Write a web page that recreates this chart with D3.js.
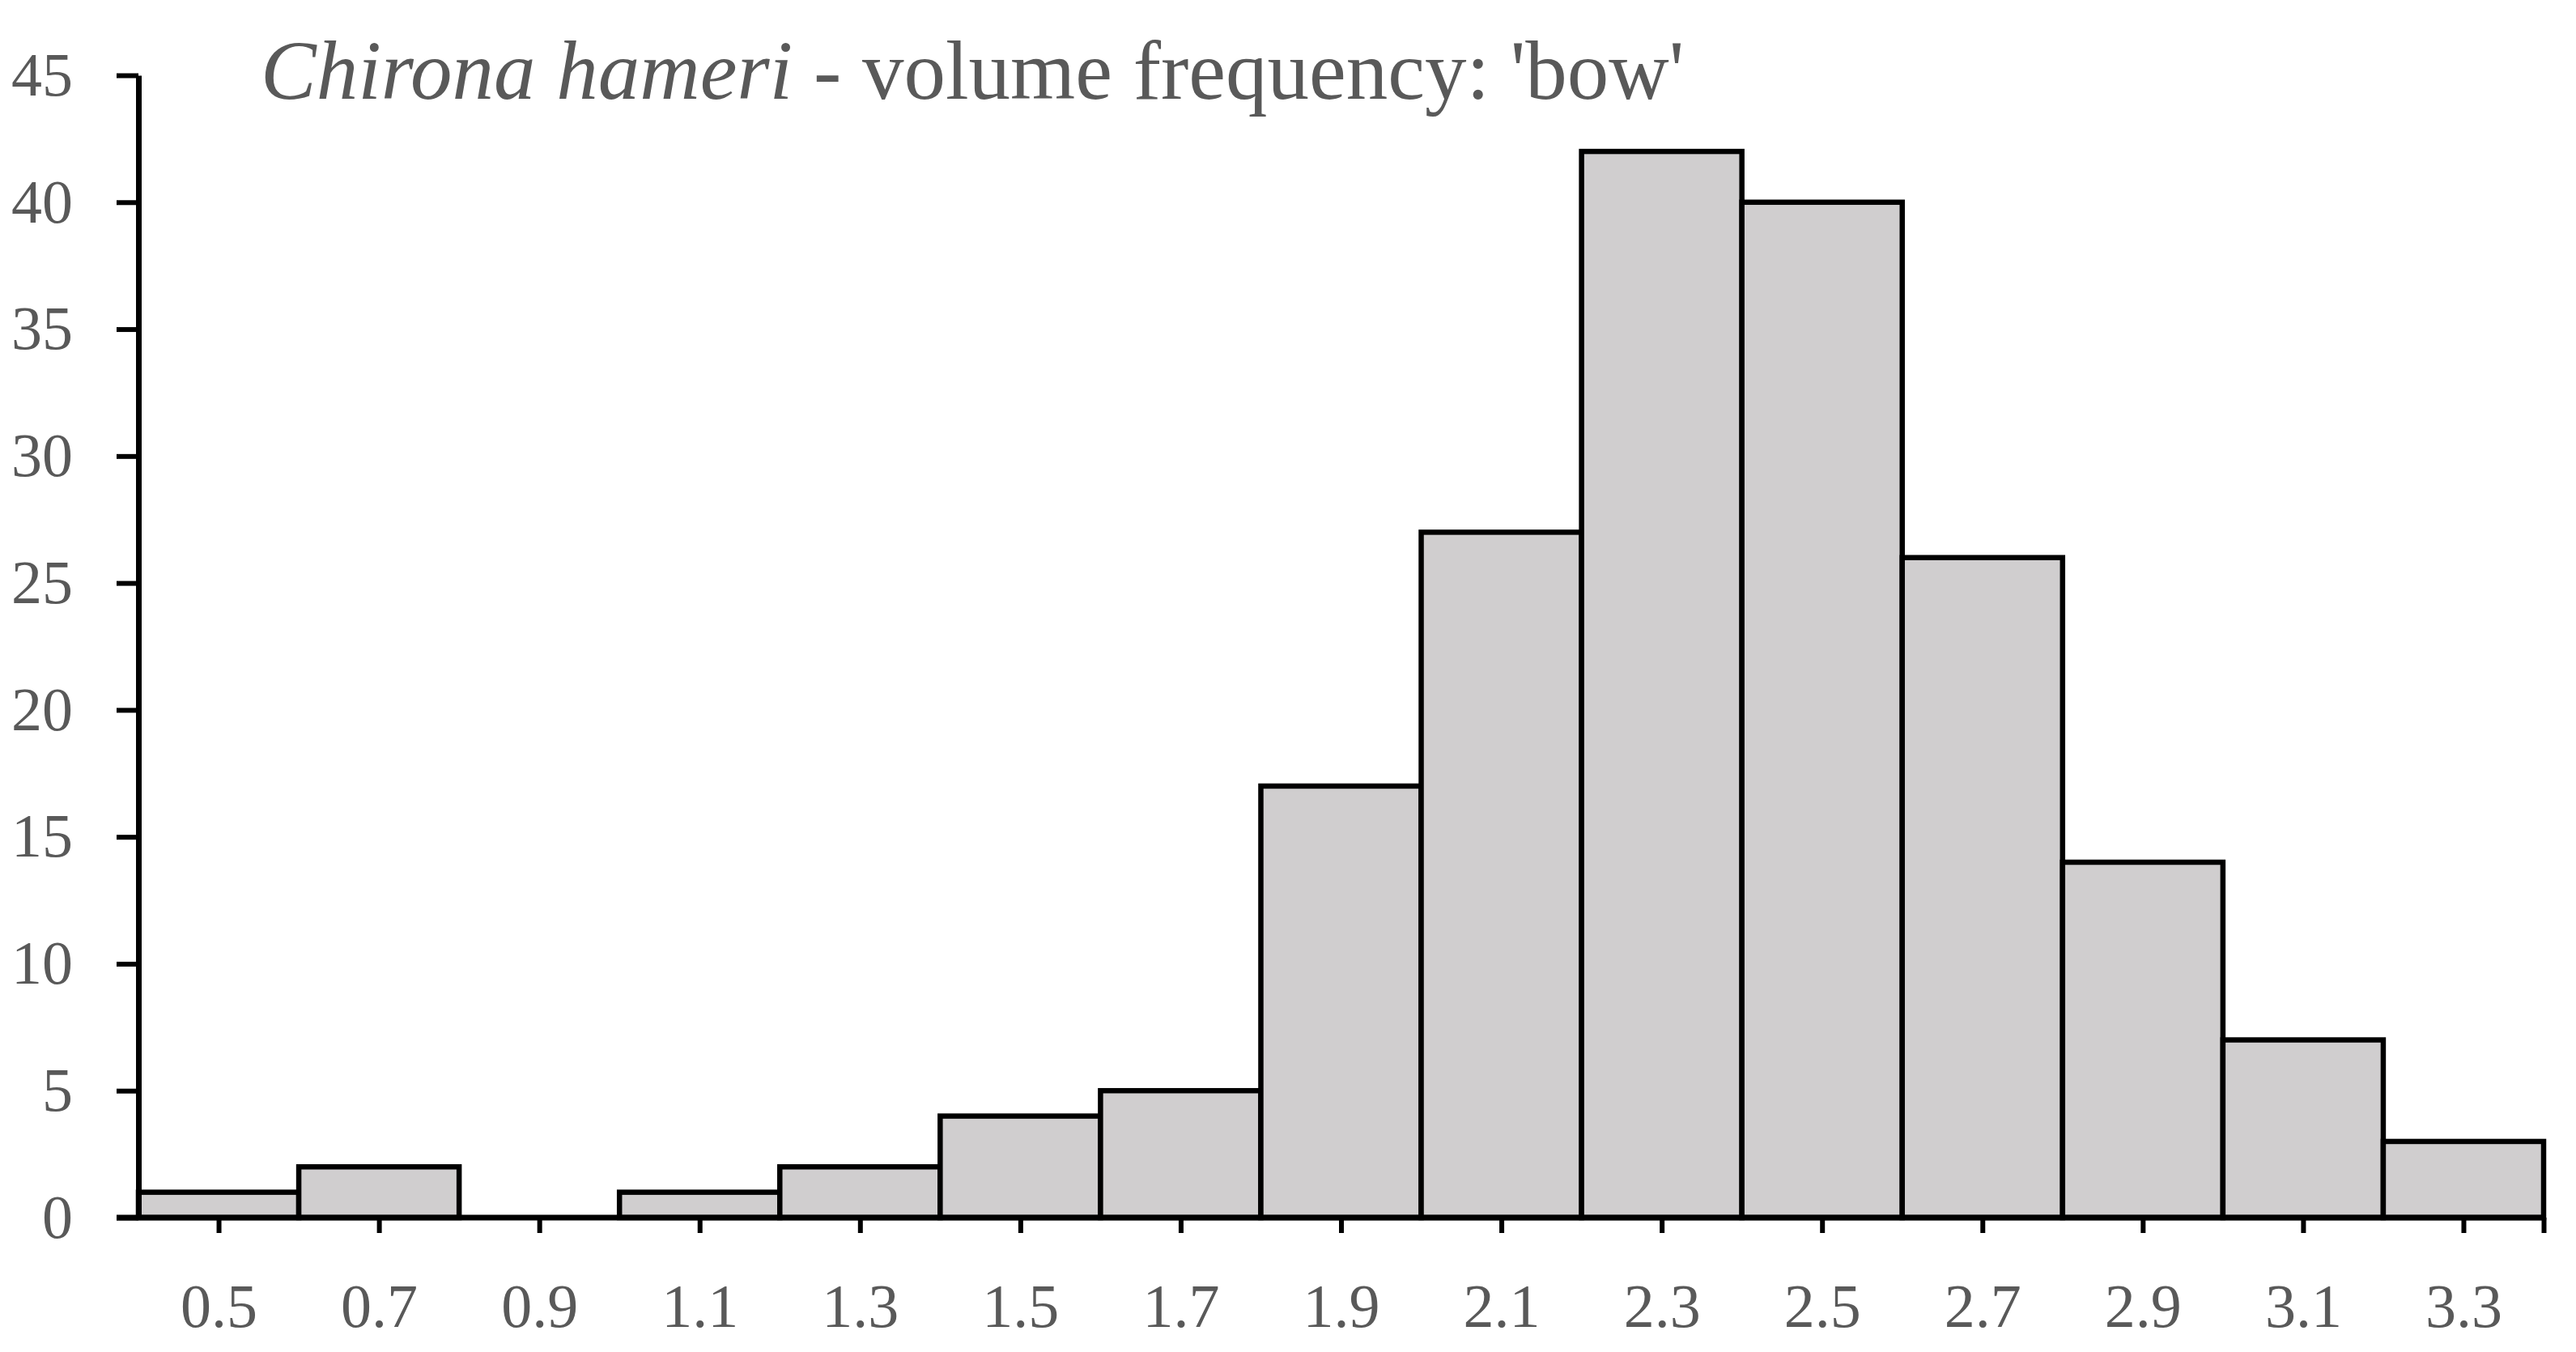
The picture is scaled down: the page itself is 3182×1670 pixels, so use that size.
<!DOCTYPE html>
<html>
<head>
<meta charset="utf-8">
<script src="https://cdn.jsdelivr.net/npm/d3@7"></script>
<style>
  body { margin: 0; background: #fff; }
  text { font-family: "Liberation Serif", serif; fill: #595959; }
</style>
</head>
<body>
<div id="container"></div>
<script>
const width = 3182;
const height = 1670;

// histogram bins (lower edges) and counts
const binStarts = [0.4, 0.6, 0.8, 1.0, 1.2, 1.4, 1.6, 1.8, 2.0, 2.2, 2.4, 2.6, 2.8, 3.0, 3.2];
const counts = [1, 2, 0, 1, 2, 4, 5, 17, 27, 42, 40, 26, 14, 7, 3];
const binWidth = 0.2;
const xTicks = [0.5, 0.7, 0.9, 1.1, 1.3, 1.5, 1.7, 1.9, 2.1, 2.3, 2.5, 2.7, 2.9, 3.1, 3.3];
const yTicks = [0, 5, 10, 15, 20, 25, 30, 35, 40, 45];

const margin = { left: 171, right: 40, top: 93, bottom: 166 };

const x = d3.scaleLinear()
  .domain([0.4, 3.4])
  .range([margin.left, width - margin.right]);

const y = d3.scaleLinear()
  .domain([0, 45])
  .range([height - margin.bottom, margin.top]);

const svg = d3.select("#container")
  .append("svg")
  .attr("width", width)
  .attr("height", height)
  .attr("viewBox", [0, 0, width, height]);

// bars
svg.append("g")
  .selectAll("rect")
  .data(binStarts)
  .join("rect")
  .attr("x", (d) => x(d))
  .attr("y", (d, i) => y(counts[i]))
  .attr("width", (d) => x(d + binWidth) - x(d))
  .attr("height", (d, i) => y(0) - y(counts[i]))
  .attr("fill", "#d0cecf")
  .attr("stroke", (d, i) => counts[i] > 0 ? "#000" : "none")
  .attr("stroke-width", 6.5);

// y axis
const yAxis = svg.append("g")
  .attr("transform", `translate(${margin.left},0)`)
  .call(d3.axisLeft(y).tickValues(yTicks).tickSize(27).tickPadding(54).tickSizeOuter(0));

// x axis
const xAxis = svg.append("g")
  .attr("transform", `translate(0,${y(0)})`)
  .call(d3.axisBottom(x).tickValues(xTicks.concat([3.4])).tickSize(19).tickPadding(62)
    .tickFormat((d) => xTicks.includes(d) ? d3.format(".1f")(d) : "")
    .tickSizeOuter(0));

[yAxis, xAxis].forEach((g) => {
  g.select(".domain").attr("stroke", "#000").attr("stroke-width", 7);
  g.selectAll(".tick line").attr("stroke", "#000").attr("stroke-width", 6);
  g.selectAll(".tick text")
    .attr("font-family", "Liberation Serif, serif")
    .attr("font-size", 76)
    .attr("fill", "#595959");
});
xAxis.select(".domain").attr("d", `M${margin.left - 27},0H${x(3.4)}`);
yAxis.selectAll(".tick text").attr("dy", "0.32em");

// title
const title = svg.append("text")
  .attr("x", 322)
  .attr("y", 122)
  .attr("font-size", 103);
title.append("tspan").attr("font-style", "italic").text("Chirona hameri");
title.append("tspan").text(" - volume frequency: 'bow'");
</script>
</body>
</html>
